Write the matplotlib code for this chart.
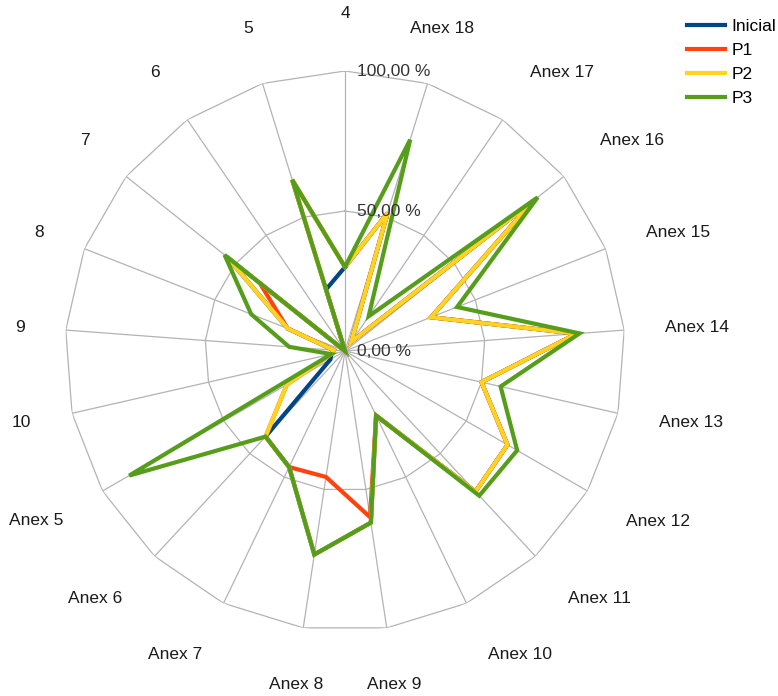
import matplotlib
matplotlib.use("Agg")
import matplotlib.pyplot as plt
import numpy as np

plt.rcParams["font.family"] = ["Liberation Sans", "DejaVu Sans"]

# categories run clockwise from the top
CATEGORIES = ["4", "Anex 18", "Anex 17", "Anex 16", "Anex 15", "Anex 14", "Anex 13",
              "Anex 12", "Anex 11", "Anex 10", "Anex 9", "Anex 8", "Anex 7", "Anex 6",
              "Anex 5", "10", "9", "8", "7", "6", "5"]

INICIAL = [30, 51.6, 4, 86, 33, 83, 50, 67, 68.5, 25.6, 62, 73.5, 46, 41.7,
           6, 5, 4, 22, 54, 0, 23]
P1 = [30, 51.6, 4, 86, 33, 83, 50, 67, 68.5, 25.6, 60, 45.5, 46, 41.7,
      24, 5, 4, 22, 39, 0, 64]
P2 = [30, 51.6, 4, 86, 33, 83, 50, 67, 68.5, 25.6, 62, 73.5, 46, 41.7,
      24, 5, 4, 22, 54, 0, 64]
P3 = [30, 79, 15, 88, 43, 84, 57, 71, 70.5, 25.6, 62, 73.5, 46, 41.7,
      89, 5, 20, 36, 55, 0, 64]

SERIES = [("Inicial", INICIAL, "#004586"),
          ("P1", P1, "#ff420e"),
          ("P2", P2, "#ffd320"),
          ("P3", P3, "#579d1c")]
GRID_LEVELS = [0, 50, 100]

GRID_COLOR = "#b3b3b3"
RADIUS_PX = 280


def closed(values):
    return list(values) + [values[0]]


fig = plt.figure(figsize=(7.78, 6.96), dpi=100)
ax = fig.add_axes([65 / 778, 65 / 696, 560 / 778, 560 / 696], projection="polar")
ax.set_theta_zero_location("N")
ax.set_theta_direction(-1)
ax.set_ylim(0, 100)
ax.grid(False)
ax.set_xticks([])
ax.set_yticks([])
ax.spines["polar"].set_visible(False)

n = len(CATEGORIES)
angles = np.linspace(0, 2 * np.pi, n, endpoint=False)
ring = closed(angles)

# polygon grid + spokes
for lvl in GRID_LEVELS[1:]:
    ax.plot(ring, [lvl] * len(ring), color=GRID_COLOR, lw=0.9, zorder=1)
for a in angles:
    ax.plot([a, a], [0, GRID_LEVELS[-1]], color=GRID_COLOR, lw=0.9, zorder=1)

for name, vals, color in SERIES:
    ax.plot(ring, closed(vals), color=color, lw=3, label=name,
            solid_joinstyle="miter", zorder=3)

# radial value labels
for lvl in GRID_LEVELS:
    txt = f"{lvl:.2f}".replace(".", ",") + " %"
    ax.annotate(txt, xy=(0, lvl), xytext=(12, 0), textcoords="offset pixels",
                ha="left", va="center", fontsize=12.5, color="#333333", zorder=4)

# category labels
for a, label in zip(angles, CATEGORIES):
    s, c = np.sin(a), np.cos(a)
    r = (320 + 10 * abs(c)) / RADIUS_PX * 100
    ha = "left" if s > 0.35 else ("right" if s < -0.35 else "center")
    va = "bottom" if c > 0.5 else ("top" if c < -0.45 else "center")
    ax.text(a, r, label, ha=ha, va=va, fontsize=12.5, color="#1a1a1a")

ax.legend(loc="upper left", bbox_to_anchor=(687 / 778, 1 - 19 / 696),
          bbox_transform=fig.transFigure, frameon=False, fontsize=12.5,
          handlelength=2.2, handletextpad=0.35, labelspacing=0.5,
          borderpad=0, borderaxespad=0)

fig.savefig("out.png", dpi=100)
plt.close(fig)
